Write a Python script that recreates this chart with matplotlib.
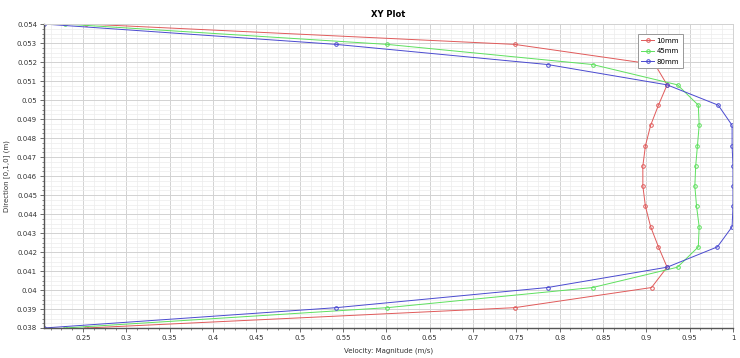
import numpy as np
import matplotlib
matplotlib.use("Agg")
import matplotlib.pyplot as plt
from matplotlib.ticker import MultipleLocator, FuncFormatter

# positions along the line probe (m)
direction_y = [0.054, 0.05293, 0.05187, 0.0508, 0.04973, 0.04867, 0.0476, 0.04653,
               0.04547, 0.0444, 0.04333, 0.04227, 0.0412, 0.04013, 0.03907, 0.038]

# velocity magnitude (m/s) at each section
vel_10mm = [0.2535, 0.748, 0.910, 0.924, 0.914, 0.905, 0.899, 0.896,
            0.896, 0.899, 0.905, 0.914, 0.924, 0.906, 0.748, 0.2535]
vel_45mm = [0.229, 0.601, 0.838, 0.936, 0.960, 0.961, 0.959, 0.957,
            0.956, 0.958, 0.961, 0.960, 0.936, 0.838, 0.601, 0.229]
vel_80mm = [0.205, 0.542, 0.786, 0.924, 0.983, 0.999, 0.999, 1.0,
            1.0, 1.0, 0.999, 0.982, 0.924, 0.786, 0.542, 0.205]

series = [("10mm", vel_10mm, "#e05a5a"),
          ("45mm", vel_45mm, "#5ee05e"),
          ("80mm", vel_80mm, "#4a4ad0")]

plt.rcParams['font.family'] = ['DejaVu Sans']

fig = plt.figure(figsize=(7.4, 3.58), dpi=100)
ax = fig.add_axes([0.0595, 0.0838, 0.931, 0.849])

for name, vals, col in series:
    ax.plot(vals, direction_y, color=col, lw=0.7, marker="o", ms=2.6,
            mfc="none", mec=col, mew=0.7, label=name)

ax.set_xlim(0.205, 1.0)
ax.set_ylim(0.038, 0.054)

ax.xaxis.set_major_locator(MultipleLocator(0.05))
ax.xaxis.set_minor_locator(MultipleLocator(0.0125))
ax.yaxis.set_major_locator(MultipleLocator(0.001))
ax.yaxis.set_minor_locator(MultipleLocator(0.00025))
fmt = FuncFormatter(lambda v, p: "{:g}".format(round(v, 4)))
ax.xaxis.set_major_formatter(fmt)
ax.yaxis.set_major_formatter(fmt)

ax.grid(which="major", color="#d2d2d2", lw=0.7)
ax.grid(which="minor", color="#ececec", lw=0.5)
ax.set_axisbelow(True)

ax.tick_params(which="major", labelsize=5, length=3, width=0.6, color="#555555",
               labelcolor="#333333", pad=2)
ax.tick_params(which="minor", length=1.5, width=0.5, color="#555555")
ax.tick_params(top=False, right=False)

for s in ["left", "bottom"]:
    ax.spines[s].set_color("#555555")
    ax.spines[s].set_linewidth(1.0)
for s in ["top", "right"]:
    ax.spines[s].set_color("#d2d2d2")
    ax.spines[s].set_linewidth(0.7)

ax.set_title("XY Plot", fontsize=6, fontweight="bold", pad=5)
ax.set_xlabel("Velocity: Magnitude (m/s)", fontsize=5, color="#333333", labelpad=5)
ax.set_ylabel("Direction [0,1,0] (m)", fontsize=5, color="#333333", labelpad=5)

leg = ax.legend(loc="upper left", bbox_to_anchor=(0.862, 0.967), fontsize=5,
                frameon=True, fancybox=False, edgecolor="#999999", framealpha=1,
                handlelength=1.8, borderpad=0.5, labelspacing=0.65,
                handletextpad=0.4, borderaxespad=0)
leg.get_frame().set_linewidth(0.7)

fig.savefig("out.png", dpi=100)
